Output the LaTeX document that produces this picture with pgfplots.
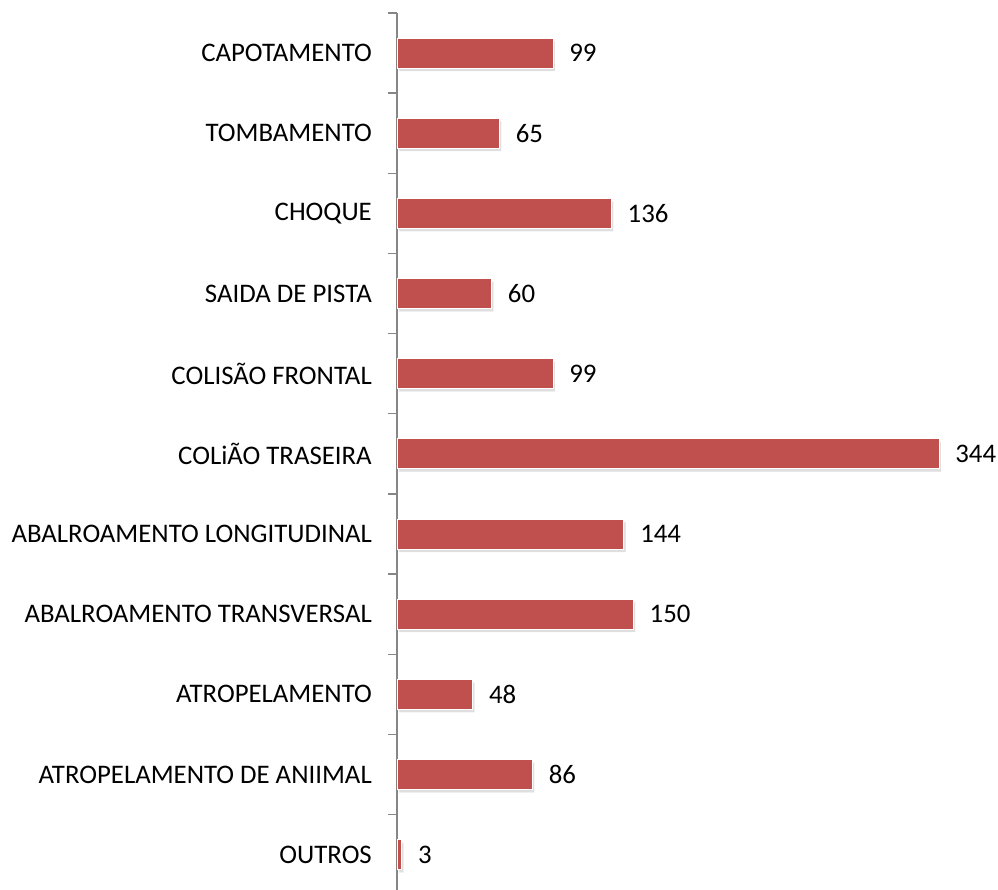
\documentclass[border=0pt]{standalone}
\usepackage{pgfplots}
\pgfplotsset{compat=1.18}
\usepackage{fontspec}
\setmainfont{Carlito}
\usetikzlibrary{shadows}
\definecolor{barred}{HTML}{C0504D}
\definecolor{axgray}{HTML}{868686}
\begin{document}
\begin{tikzpicture}
\begin{axis}[
  name=ax, at={(0,0)}, anchor=south west,
  scale only axis, width=542pt, height=877pt,
  xbar, xmin=0, xmax=344, ymin=-0.44, ymax=10.5,
  bar width=30pt,
  hide x axis,
  axis y line*=left,
  y axis line style={axgray, line width=1.3pt},
  ytick={0,...,10},
  yticklabels={OUTROS, ATROPELAMENTO DE ANIIMAL, ATROPELAMENTO, ABALROAMENTO TRANSVERSAL, ABALROAMENTO LONGITUDINAL, COLiÃO TRASEIRA, COLISÃO FRONTAL, SAIDA DE PISTA, CHOQUE, TOMBAMENTO, CAPOTAMENTO},
  major tick length=0pt,
  minor ytick={0.5,1.5,...,10.5},
  minor tick length=9pt,
  tick align=outside,
  tick style={axgray, line width=1.3pt},
  /pgf/number format/assume math mode=true,
  yticklabel style={font=\fontsize{26.8}{30}\selectfont, anchor=east, inner sep=0pt, xshift=-25pt, black},
  nodes near coords,
  nodes near coords style={font=\fontsize{26.8}{30}\selectfont, anchor=west, inner sep=0pt, xshift=16pt, black},
  clip=false,
]
\addplot[fill=barred, draw=white, line width=0.8pt,
  drop shadow={shadow xshift=2pt, shadow yshift=-3pt, opacity=0.25}]
  coordinates {(3,0) (86,1) (48,2) (150,3) (144,4) (344,5) (99,6) (60,7) (136,8) (65,9) (99,10)};
\end{axis}
\pgfresetboundingbox
\path[use as bounding box] ([xshift=-397pt]ax.south west) rectangle ([xshift=59pt, yshift=13pt]ax.north east);
\end{tikzpicture}
\end{document}
